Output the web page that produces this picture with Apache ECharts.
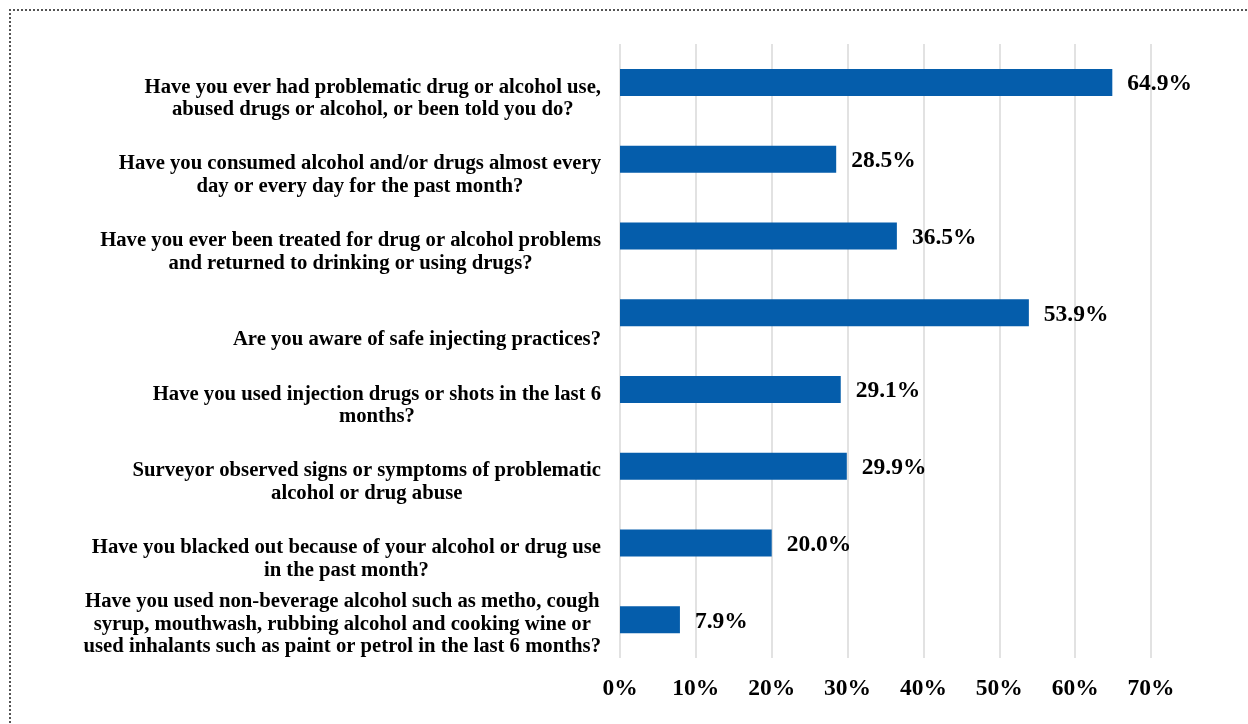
<!DOCTYPE html>
<html>
<head>
<meta charset="utf-8">
<script src="https://cdn.jsdelivr.net/npm/echarts@6/dist/echarts.min.js"></script>
<style>
  html, body { margin: 0; padding: 0; background: #fff; }
  #wrap { position: relative; width: 1248px; height: 724px; overflow: hidden; }
  #frame {
    position: absolute; left: 9px; top: 9px; width: 1300px; height: 800px;
    border-left: 2px dotted #555; border-top: 2px dotted #555;
  }
  #chart { position: absolute; left: 0; top: 0; width: 1248px; height: 724px; }
</style>
</head>
<body>
<div id="wrap">
  <div id="frame"></div>
  <div id="chart"></div>
</div>
<script>
// questions, top to bottom
const questions = [
  'Have you ever had problematic drug or alcohol use,\nabused drugs or alcohol, or been told you do?',
  'Have you consumed alcohol and/or drugs almost every\nday or every day for the past month?',
  'Have you ever been treated for drug or alcohol problems\nand returned to drinking or using drugs?',
  'Are you aware of safe injecting practices?',
  'Have you used injection drugs or shots in the last 6\nmonths?',
  'Surveyor observed signs or symptoms of problematic\nalcohol or drug abuse',
  'Have you blacked out because of your alcohol or drug use\nin the past month?',
  'Have you used non-beverage alcohol such as metho, cough\nsyrup, mouthwash, rubbing alcohol and cooking wine or\nused inhalants such as paint or petrol in the last 6 months?'
]
// percent answering yes
const percents = [64.9, 28.5, 36.5, 53.9, 29.1, 29.9, 20.0, 7.9]
const axisMin = 0
const axisMax = 70
const axisStep = 10

const serif = '"Liberation Serif", "Times New Roman", serif'

let myChart = echarts.init(document.getElementById('chart'))
myChart.setOption({
  animation: false,
  grid: { left: 620, right: 97, top: 44, bottom: 66 },
  xAxis: {
    type: 'value',
    min: axisMin,
    max: axisMax,
    interval: axisStep,
    axisLine: { show: false },
    axisTick: { show: false },
    splitLine: { lineStyle: { color: '#d9d9d9', width: 1.5 } },
    axisLabel: {
      margin: 19,
      color: '#000',
      fontFamily: serif,
      fontWeight: 'bold',
      fontSize: 23.5,
      formatter: v => v + '%'
    }
  },
  yAxis: {
    type: 'category',
    inverse: true,
    data: questions,
    axisLine: { show: false },
    axisTick: { show: false },
    axisLabel: {
      margin: 19,
      align: 'right',
      padding: [10, 0, 0, 0],
      // Excel bottom-aligns the wrapped label in a three-line box
      formatter: function (v) {
        let lines = v.split('\n')
        while (lines.length < 3) lines.unshift(' ')
        return lines.map(l => '{c|' + l + '}').join('\n')
      },
      rich: {
        c: {
          align: 'center',
          color: '#000',
          fontFamily: serif,
          fontWeight: 'bold',
          fontSize: 20.7,
          lineHeight: 22.5
        }
      }
    }
  },
  series: [
    {
      type: 'bar',
      data: percents,
      barWidth: 27,
      itemStyle: { color: '#055dab' },
      label: {
        show: true,
        position: 'right',
        distance: 15,
        offset: [0, 2],
        color: '#000',
        fontFamily: serif,
        fontWeight: 'bold',
        fontSize: 23.5,
        formatter: p => p.value.toFixed(1) + '%'
      }
    }
  ]
})
</script>
</body>
</html>
